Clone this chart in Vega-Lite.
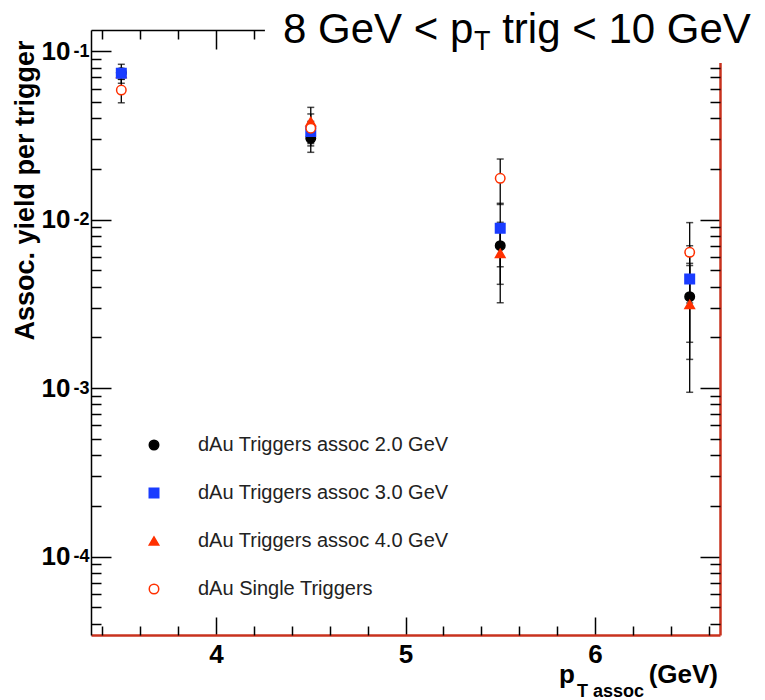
{
  "$schema": "https://vega.github.io/schema/vega-lite/v6.json",
  "width": 629,
  "height": 605,
  "autosize": {"type": "none"},
  "padding": {"left": 91, "top": 30, "right": 45, "bottom": 65},
  "background": "white",
  "config": {
    "view": {"stroke": null},
    "axis": {"grid": false, "labelFont": "Liberation Sans", "titleFont": "Liberation Sans", "domainColor": "black", "tickColor": "black", "tickWidth": 1.5, "domainWidth": 1.5, "labelColor": "black", "titleColor": "black"},
    "text": {"font": "Liberation Sans", "color": "black"}
  },
  "datasets": {
    "pts": [
      {"x": 3.5, "s": "dAu Triggers assoc 2.0 GeV", "y": 0.0745, "lo": 0.0645, "hi": 0.0836},
      {"x": 3.5, "s": "dAu Triggers assoc 4.0 GeV", "y": 0.0738, "lo": 0.068, "hi": 0.079},
      {"x": 3.5, "s": "dAu Triggers assoc 3.0 GeV", "y": 0.0739, "lo": 0.0705, "hi": 0.0775},
      {"x": 3.5, "s": "dAu Single Triggers", "y": 0.0588, "lo": 0.0494, "hi": 0.0682},
      {"x": 4.5, "s": "dAu Triggers assoc 2.0 GeV", "y": 0.0304, "lo": 0.0251, "hi": 0.0357},
      {"x": 4.5, "s": "dAu Triggers assoc 4.0 GeV", "y": 0.0382, "lo": 0.03, "hi": 0.0464},
      {"x": 4.5, "s": "dAu Triggers assoc 3.0 GeV", "y": 0.0333, "lo": 0.0283, "hi": 0.0383},
      {"x": 4.5, "s": "dAu Single Triggers", "y": 0.0349, "lo": 0.0274, "hi": 0.0424},
      {"x": 5.5, "s": "dAu Triggers assoc 2.0 GeV", "y": 0.007, "lo": 0.00413, "hi": 0.00964},
      {"x": 5.5, "s": "dAu Triggers assoc 4.0 GeV", "y": 0.00631, "lo": 0.00321, "hi": 0.0094},
      {"x": 5.5, "s": "dAu Triggers assoc 3.0 GeV", "y": 0.00888, "lo": 0.00525, "hi": 0.0125},
      {"x": 5.5, "s": "dAu Single Triggers", "y": 0.0176, "lo": 0.0123, "hi": 0.0229},
      {"x": 6.5, "s": "dAu Triggers assoc 2.0 GeV", "y": 0.00349, "lo": 0.00148, "hi": 0.0055},
      {"x": 6.5, "s": "dAu Triggers assoc 4.0 GeV", "y": 0.00314, "lo": 0.000944, "hi": 0.00534},
      {"x": 6.5, "s": "dAu Triggers assoc 3.0 GeV", "y": 0.00444, "lo": 0.00187, "hi": 0.007},
      {"x": 6.5, "s": "dAu Single Triggers", "y": 0.0064, "lo": 0.0032, "hi": 0.0096}
    ]
  },
  "layer": [
    {
      "data": {"name": "pts"},
      "mark": {"type": "rule", "color": "black", "strokeWidth": 1.3},
      "encoding": {
        "x": {"field": "x", "type": "quantitative", "scale": {"type": "linear", "domain": [3.34, 6.66], "nice": false, "zero": false},
          "axis": {"orient": "bottom", "values": [4, 5, 6], "ticks": false, "domain": false, "labelFontSize": 26, "labelFontWeight": "bold", "labelPadding": 6, "labelFlush": false, "title": null}},
        "y": {"field": "lo", "type": "quantitative", "scale": {"type": "log", "domain": [0.0000342, 0.1336], "nice": false},
          "axis": {"orient": "left", "values": [0.0001, 0.001, 0.01, 0.1], "labelExpr": "'10'", "ticks": false, "domain": false, "labelFontSize": 26, "labelFontWeight": "bold", "labelPadding": 21, "labelDy": 5, "labelFlush": false,
            "title": "Assoc. yield per trigger", "titleFontSize": 27, "titleFontWeight": "bold", "titleAngle": -90, "titleAlign": "center", "titleBaseline": "alphabetic", "titleX": -58, "titleY": 160}},
        "y2": {"field": "hi"}
      }
    },
    {
      "data": {"name": "pts"},
      "mark": {"type": "tick", "orient": "horizontal", "size": 7, "thickness": 1.5, "color": "black"},
      "encoding": {
        "x": {"field": "x", "type": "quantitative", "scale": {"type": "linear", "domain": [3.34, 6.66], "nice": false, "zero": false},
          "axis": {"orient": "bottom", "values": [4, 5, 6], "tickSize": -18, "labels": false, "domain": true, "domainColor": "#c8321e", "domainWidth": 2.5, "title": null}},
        "y": {"field": "lo", "type": "quantitative", "scale": {"type": "log", "domain": [0.0000342, 0.1336], "nice": false},
          "axis": {"orient": "left", "values": [0.0001, 0.001, 0.01, 0.1], "labelExpr": "'' + round(log(datum.value)/LN10)", "ticks": false, "domain": false, "labelFontSize": 18, "labelFontWeight": "bold", "labelPadding": 2, "labelDy": -4, "labelFlush": false, "title": null}}
      }
    },
    {
      "data": {"name": "pts"},
      "mark": {"type": "tick", "orient": "horizontal", "size": 7, "thickness": 1.5, "color": "black"},
      "encoding": {
        "x": {"field": "x", "type": "quantitative", "scale": {"type": "linear", "domain": [3.34, 6.66], "nice": false, "zero": false},
          "axis": {"orient": "bottom", "values": [3.4, 3.6, 3.8, 4.2, 4.4, 4.6, 4.8, 5.2, 5.4, 5.6, 5.8, 6.2, 6.4, 6.6], "tickSize": -9, "labels": false, "domain": false, "title": null}},
        "y": {"field": "hi", "type": "quantitative", "scale": {"type": "log", "domain": [0.0000342, 0.1336], "nice": false},
          "axis": {"orient": "left", "values": [0.0001, 0.001, 0.01, 0.1], "tickSize": -20, "labels": false, "domain": true, "domainColor": "black", "domainWidth": 1.5, "title": null}}
      }
    },
    {
      "data": {"name": "pts"},
      "mark": {"type": "point", "filled": true, "size": 90, "strokeWidth": 1.5, "opacity": 1},
      "encoding": {
        "x": {"field": "x", "type": "quantitative", "scale": {"type": "linear", "domain": [3.34, 6.66], "nice": false, "zero": false},
          "axis": {"orient": "top", "values": [4, 5, 6], "tickSize": -19, "labels": false, "domain": true, "domainColor": "black", "domainWidth": 1.5, "title": null}},
        "y": {"field": "y", "type": "quantitative", "scale": {"type": "log", "domain": [0.0000342, 0.1336], "nice": false},
          "axis": {"orient": "left", "values": [0.00004, 0.00005, 0.00006, 0.00007, 0.00008, 0.00009, 0.0002, 0.0003, 0.0004, 0.0005, 0.0006, 0.0007, 0.0008, 0.0009, 0.002, 0.003, 0.004, 0.005, 0.006, 0.007, 0.008, 0.009, 0.02, 0.03, 0.04, 0.05, 0.06, 0.07, 0.08, 0.09], "tickSize": -10, "labels": false, "domain": false, "title": null}},
        "fill": {"field": "s", "type": "nominal",
          "scale": {"domain": ["dAu Triggers assoc 2.0 GeV", "dAu Triggers assoc 3.0 GeV", "dAu Triggers assoc 4.0 GeV", "dAu Single Triggers"], "range": ["black", "#1a3cff", "#ff3000", "white"]},
          "legend": {"orient": "none", "legendX": 53, "legendY": 405, "title": null, "padding": 0, "labelFont": "Liberation Sans", "labelFontSize": 20, "labelColor": "#222", "labelLimit": 0, "rowPadding": 28, "labelOffset": 34, "symbolSize": 90, "symbolStrokeWidth": 1.5}},
        "stroke": {"field": "s", "type": "nominal",
          "scale": {"domain": ["dAu Triggers assoc 2.0 GeV", "dAu Triggers assoc 3.0 GeV", "dAu Triggers assoc 4.0 GeV", "dAu Single Triggers"], "range": ["black", "#1a3cff", "#ff3000", "#ff3000"]},
          "legend": {"orient": "none", "legendX": 53, "legendY": 405, "title": null, "padding": 0, "labelFont": "Liberation Sans", "labelFontSize": 20, "labelColor": "#222", "labelLimit": 0, "rowPadding": 28, "labelOffset": 34, "symbolSize": 90, "symbolStrokeWidth": 1.5}},
        "shape": {"field": "s", "type": "nominal",
          "scale": {"domain": ["dAu Triggers assoc 2.0 GeV", "dAu Triggers assoc 3.0 GeV", "dAu Triggers assoc 4.0 GeV", "dAu Single Triggers"], "range": ["circle", "square", "triangle-up", "circle"]},
          "legend": {"orient": "none", "legendX": 53, "legendY": 405, "title": null, "padding": 0, "labelFont": "Liberation Sans", "labelFontSize": 20, "labelColor": "#222", "labelLimit": 0, "rowPadding": 28, "labelOffset": 34, "symbolSize": 90, "symbolStrokeWidth": 1.5}}
      }
    },
    {
      "data": {"values": [{}]},
      "mark": {"type": "rect", "color": "white"},
      "encoding": {
        "x": {"datum": 4.258, "type": "quantitative", "scale": {"type": "linear", "domain": [3.34, 6.66], "nice": false, "zero": false},
          "axis": {"orient": "top", "values": [3.4, 3.6, 3.8, 4.2, 4.4, 4.6, 4.8, 5.2, 5.4, 5.6, 5.8, 6.2, 6.4, 6.6], "tickSize": -9, "labels": false, "domain": false, "title": null}},
        "x2": {"datum": 7},
        "y": {"datum": 0.0851, "type": "quantitative", "scale": {"type": "log", "domain": [0.0000342, 0.1336], "nice": false},
          "axis": {"orient": "right", "values": [0.0001, 0.001, 0.01, 0.1], "tickSize": -20, "labels": false, "domain": true, "domainColor": "#c8321e", "domainWidth": 2.5, "title": null}},
        "y2": {"datum": 1}
      }
    },
    {
      "data": {"values": [{}]},
      "mark": {"type": "text", "text": "8 GeV < p", "align": "left", "baseline": "alphabetic", "fontSize": 42},
      "encoding": {
        "x": {"datum": 4.3532, "type": "quantitative", "scale": {"type": "linear", "domain": [3.34, 6.66], "nice": false, "zero": false}, "axis": null},
        "y": {"datum": 0.1118, "type": "quantitative", "scale": {"type": "log", "domain": [0.0000342, 0.1336], "nice": false},
          "axis": {"orient": "right", "values": [0.00004, 0.00005, 0.00006, 0.00007, 0.00008, 0.00009, 0.0002, 0.0003, 0.0004, 0.0005, 0.0006, 0.0007, 0.0008, 0.0009, 0.002, 0.003, 0.004, 0.005, 0.006, 0.007, 0.008, 0.009, 0.02, 0.03, 0.04, 0.05, 0.06, 0.07, 0.08, 0.09], "tickSize": -10, "labels": false, "domain": false, "title": null}}
      }
    },
    {
      "data": {"values": [{}]},
      "mark": {"type": "text", "text": "T", "align": "left", "baseline": "alphabetic", "fontSize": 27},
      "encoding": {
        "x": {"datum": 5.3615, "type": "quantitative", "scale": {"type": "linear", "domain": [3.34, 6.66], "nice": false, "zero": false}, "axis": null},
        "y": {"datum": 0.1016, "type": "quantitative", "scale": {"type": "log", "domain": [0.0000342, 0.1336], "nice": false}, "axis": null}
      }
    },
    {
      "data": {"values": [{}]},
      "mark": {"type": "text", "text": "trig < 10 GeV", "align": "left", "baseline": "alphabetic", "fontSize": 42},
      "encoding": {
        "x": {"datum": 5.5104, "type": "quantitative", "scale": {"type": "linear", "domain": [3.34, 6.66], "nice": false, "zero": false}, "axis": null},
        "y": {"datum": 0.1118, "type": "quantitative", "scale": {"type": "log", "domain": [0.0000342, 0.1336], "nice": false}, "axis": null}
      }
    },
    {
      "data": {"values": [{}]},
      "mark": {"type": "text", "text": "p", "align": "left", "baseline": "alphabetic", "fontSize": 26, "fontWeight": "bold"},
      "encoding": {
        "x": {"datum": 5.8102, "type": "quantitative", "scale": {"type": "linear", "domain": [3.34, 6.66], "nice": false, "zero": false}, "axis": null},
        "y": {"datum": 0.00001774, "type": "quantitative", "scale": {"type": "log", "domain": [0.0000342, 0.1336], "nice": false}, "axis": null}
      }
    },
    {
      "data": {"values": [{}]},
      "mark": {"type": "text", "text": "T assoc", "align": "left", "baseline": "alphabetic", "fontSize": 18, "fontWeight": "bold"},
      "encoding": {
        "x": {"datum": 5.9052, "type": "quantitative", "scale": {"type": "linear", "domain": [3.34, 6.66], "nice": false, "zero": false}, "axis": null},
        "y": {"datum": 0.00001465, "type": "quantitative", "scale": {"type": "log", "domain": [0.0000342, 0.1336], "nice": false}, "axis": null}
      }
    },
    {
      "data": {"values": [{}]},
      "mark": {"type": "text", "text": "(GeV)", "align": "right", "baseline": "alphabetic", "fontSize": 26, "fontWeight": "bold"},
      "encoding": {
        "x": {"datum": 6.6493, "type": "quantitative", "scale": {"type": "linear", "domain": [3.34, 6.66], "nice": false, "zero": false}, "axis": null},
        "y": {"datum": 0.00001774, "type": "quantitative", "scale": {"type": "log", "domain": [0.0000342, 0.1336], "nice": false}, "axis": null}
      }
    }
  ],
  "resolve": {"axis": {"x": "independent", "y": "independent"}}
}
